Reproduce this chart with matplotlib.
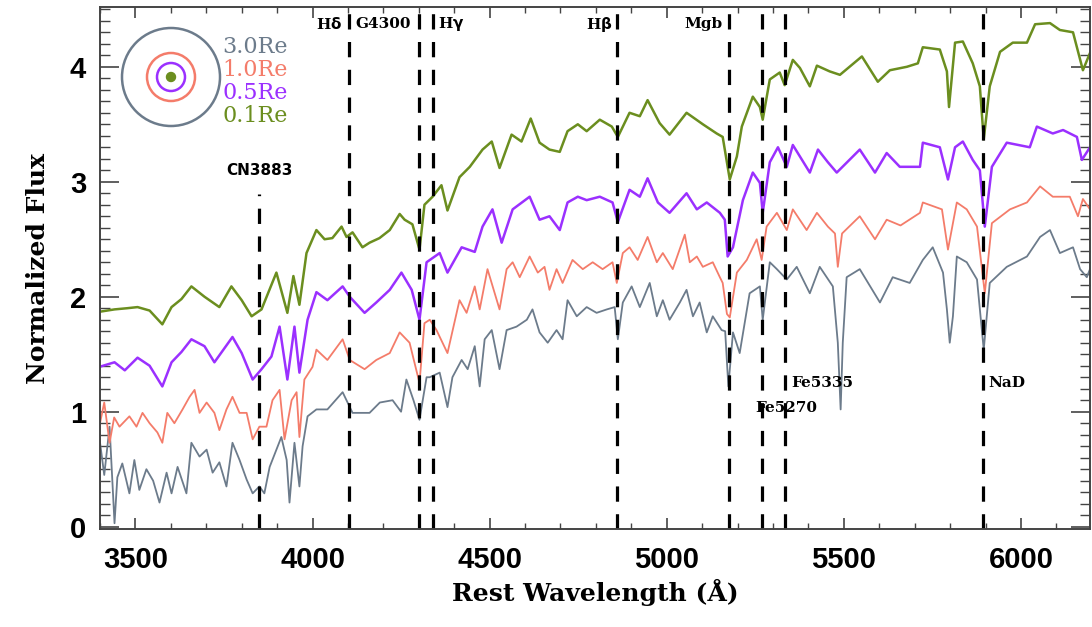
import matplotlib
matplotlib.use("Agg")
from matplotlib import pyplot as plt
from matplotlib.patches import Circle
from matplotlib.ticker import MultipleLocator

# spectra (rest wavelength in A, normalized flux)
wl_01 = [3400, 3441, 3476, 3506, 3540, 3576, 3602, 3630, 3658, 3695, 3737, 3771, 3800, 3828, 3856,
         3898, 3929, 3946, 3963, 3983, 4011, 4034, 4056, 4082, 4096, 4113, 4141, 4161, 4189, 4218,
         4246, 4260, 4282, 4302, 4316, 4339, 4364, 4381, 4415, 4444, 4480, 4506, 4528, 4562, 4590,
         4616, 4641, 4669, 4698, 4720, 4749, 4774, 4811, 4845, 4862, 4895, 4924, 4946, 4980, 5008,
         5056, 5102, 5141, 5158, 5178, 5198, 5212, 5243, 5263, 5271, 5291, 5319, 5333, 5356, 5376,
         5404, 5424, 5460, 5489, 5551, 5596, 5630, 5678, 5709, 5723, 5771, 5791, 5797, 5814, 5836,
         5864, 5884, 5895, 5912, 5941, 5977, 6017, 6040, 6082, 6110, 6147, 6175, 6195]
flux_01 = [1.87, 1.89, 1.90, 1.91, 1.88, 1.76, 1.91, 1.98, 2.09, 2.00, 1.91, 2.09, 1.97, 1.83, 1.89,
           2.21, 1.86, 2.18, 1.93, 2.38, 2.58, 2.50, 2.51, 2.61, 2.52, 2.56, 2.43, 2.47, 2.51, 2.58,
           2.72, 2.67, 2.63, 2.41, 2.80, 2.87, 2.97, 2.75, 3.04, 3.13, 3.28, 3.35, 3.12, 3.41, 3.35,
           3.55, 3.34, 3.28, 3.26, 3.44, 3.50, 3.44, 3.54, 3.48, 3.39, 3.60, 3.57, 3.71, 3.51, 3.41,
           3.60, 3.50, 3.42, 3.39, 3.02, 3.22, 3.48, 3.74, 3.65, 3.54, 3.89, 3.95, 3.84, 4.06, 3.99,
           3.83, 4.01, 3.96, 3.93, 4.09, 3.87, 3.97, 4.00, 4.03, 4.17, 4.15, 3.96, 3.65, 4.21, 4.22,
           4.03, 3.83, 3.37, 3.83, 4.13, 4.21, 4.21, 4.37, 4.38, 4.32, 4.30, 3.97, 4.12]

wl_05 = [3398, 3441, 3470, 3506, 3540, 3576, 3602, 3630, 3658, 3695, 3723, 3774, 3800, 3831, 3856,
         3884, 3907, 3929, 3949, 3963, 3986, 4011, 4042, 4085, 4105, 4147, 4180, 4218, 4251, 4280,
         4302, 4322, 4359, 4381, 4421, 4458, 4480, 4508, 4534, 4565, 4613, 4641, 4669, 4698, 4720,
         4749, 4774, 4811, 4847, 4862, 4895, 4924, 4946, 4975, 5008, 5056, 5085, 5113, 5150, 5164,
         5172, 5187, 5215, 5243, 5263, 5271, 5291, 5314, 5339, 5356, 5404, 5427, 5455, 5480, 5545,
         5588, 5621, 5658, 5715, 5723, 5771, 5794, 5814, 5836, 5864, 5884, 5898, 5918, 5960, 6025,
         6045, 6090, 6119, 6158, 6172, 6195]
flux_05 = [1.39, 1.43, 1.36, 1.47, 1.40, 1.22, 1.43, 1.52, 1.63, 1.57, 1.43, 1.65, 1.51, 1.28, 1.37,
           1.48, 1.74, 1.28, 1.74, 1.34, 1.80, 2.04, 1.97, 2.09, 2.00, 1.86, 1.95, 2.06, 2.21, 2.06,
           1.80, 2.30, 2.38, 2.21, 2.43, 2.39, 2.61, 2.76, 2.47, 2.76, 2.87, 2.67, 2.70, 2.58, 2.82,
           2.87, 2.84, 2.87, 2.82, 2.65, 2.93, 2.87, 3.03, 2.82, 2.73, 2.90, 2.76, 2.82, 2.73, 2.67,
           2.35, 2.43, 2.84, 3.08, 2.99, 2.73, 3.17, 3.30, 3.13, 3.32, 3.08, 3.28, 3.17, 3.08, 3.28,
           3.08, 3.25, 3.13, 3.13, 3.34, 3.30, 3.02, 3.30, 3.35, 3.19, 3.10, 2.61, 3.13, 3.34, 3.30,
           3.48, 3.42, 3.45, 3.39, 3.19, 3.30]

wl_10 = [3398, 3412, 3427, 3440, 3455, 3483, 3503, 3520, 3540, 3562,
         3576, 3590, 3610, 3633, 3653, 3667, 3681, 3701, 3723, 3737,
         3757, 3774, 3794, 3814, 3831, 3850, 3870, 3887, 3907, 3921,
         3941, 3955, 3963, 3977, 4000, 4011, 4042, 4085, 4105, 4147,
         4180, 4218, 4246, 4274, 4302, 4316, 4331, 4350, 4381, 4415,
         4435, 4458, 4472, 4494, 4528, 4548, 4565, 4585, 4613, 4636,
         4655, 4669, 4689, 4706, 4734, 4763, 4791, 4819, 4847, 4859,
         4876, 4895, 4918, 4946, 4972, 4989, 5017, 5051, 5065, 5085,
         5102, 5130, 5150, 5158, 5170, 5178, 5198, 5226, 5254, 5268,
         5282, 5311, 5339, 5356, 5395, 5424, 5455, 5475, 5483, 5495,
         5545, 5588, 5621, 5660, 5715, 5723, 5777, 5794, 5819, 5847,
         5876, 5898, 5918, 5969, 6017, 6054, 6090, 6138, 6161, 6175,
         6195]
flux_10 = [0.87, 1.08, 0.73, 0.95, 0.87, 0.96, 0.87, 0.99, 0.90, 0.82,
           0.73, 0.99, 0.90, 1.02, 1.13, 1.19, 0.99, 1.08, 0.99, 0.84,
           1.02, 1.13, 0.99, 0.99, 0.76, 0.87, 0.87, 1.10, 1.19, 0.76,
           1.10, 1.17, 0.78, 1.28, 1.39, 1.54, 1.45, 1.63, 1.45, 1.37,
           1.45, 1.51, 1.69, 1.60, 1.25, 1.77, 1.80, 1.71, 1.51, 1.97,
           1.86, 2.09, 1.89, 2.24, 1.89, 2.24, 2.30, 2.17, 2.35, 2.21,
           2.26, 2.06, 2.24, 2.12, 2.32, 2.24, 2.30, 2.24, 2.30, 2.12,
           2.38, 2.43, 2.32, 2.52, 2.30, 2.38, 2.24, 2.54, 2.30, 2.35,
           2.26, 2.30, 2.17, 2.12, 1.85, 1.82, 2.21, 2.32, 2.50, 2.32,
           2.61, 2.73, 2.58, 2.76, 2.58, 2.73, 2.61, 2.55, 2.26, 2.55,
           2.70, 2.50, 2.67, 2.62, 2.73, 2.82, 2.76, 2.41, 2.82, 2.76,
           2.61, 2.03, 2.64, 2.76, 2.82, 2.96, 2.87, 2.87, 2.70, 2.85,
           2.76]

wl_30 = [3398, 3412, 3427, 3441, 3449, 3463, 3483, 3497, 3511, 3531,
         3550, 3568, 3588, 3602, 3619, 3644, 3658, 3681, 3701, 3718,
         3737, 3757, 3774, 3794, 3814, 3831, 3850, 3864, 3879, 3898,
         3912, 3927, 3935, 3949, 3963, 3972, 3986, 4011, 4042, 4085,
         4113, 4161, 4190, 4226, 4250, 4265, 4285, 4302, 4322, 4331,
         4359, 4381, 4395, 4421, 4438, 4458, 4472, 4486, 4506, 4528,
         4548, 4576, 4605, 4621, 4641, 4664, 4689, 4706, 4720, 4746,
         4774, 4802, 4831, 4853, 4862, 4876, 4901, 4924, 4952, 4972,
         4989, 5008, 5037, 5056, 5074, 5093, 5113, 5130, 5155, 5165,
         5174, 5187, 5206, 5234, 5263, 5271, 5291, 5311, 5339, 5367,
         5404, 5432, 5469, 5483, 5491, 5497, 5508, 5545, 5602, 5638,
         5686, 5723, 5751, 5780, 5791, 5799, 5808, 5819, 5847, 5876,
         5895, 5912, 5960, 6017, 6054, 6082, 6110, 6147, 6167, 6186,
         6195]
flux_30 = [0.78, 0.45, 0.87, 0.03, 0.43, 0.55, 0.29, 0.58, 0.32, 0.50,
           0.40, 0.21, 0.47, 0.29, 0.52, 0.29, 0.73, 0.61, 0.67, 0.47,
           0.56, 0.35, 0.73, 0.58, 0.41, 0.29, 0.35, 0.29, 0.52, 0.67,
           0.78, 0.58, 0.21, 0.73, 0.35, 0.70, 0.96, 1.02, 1.02, 1.17,
           0.99, 0.99, 1.08, 1.10, 1.00, 1.28, 1.10, 0.93, 1.30, 1.30,
           1.34, 1.04, 1.30, 1.45, 1.37, 1.57, 1.22, 1.63, 1.71, 1.37,
           1.71, 1.74, 1.80, 1.89, 1.69, 1.60, 1.71, 1.63, 1.97, 1.83,
           1.91, 1.86, 1.89, 1.91, 1.63, 1.95, 2.09, 1.91, 2.12, 1.83,
           1.97, 1.80, 1.95, 2.06, 1.83, 1.95, 1.69, 1.83, 1.71, 1.70,
           1.22, 1.69, 1.51, 2.03, 2.09, 1.80, 2.30, 2.24, 2.15, 2.26,
           2.03, 2.26, 2.09, 1.60, 1.02, 1.60, 2.17, 2.24, 1.95, 2.17,
           2.12, 2.32, 2.43, 2.21, 1.89, 1.60, 1.83, 2.35, 2.30, 2.15,
           1.54, 2.12, 2.26, 2.35, 2.52, 2.58, 2.38, 2.43, 2.24, 2.17,
           2.24]

line_names = ["CN3883", "H$\\delta$", "G4300", "H$\\gamma$", "H$\\beta$", "Mgb", "Fe5270", "Fe5335", "NaD"]
line_wl = [3850, 4102, 4300, 4340, 4861, 5175, 5270, 5335, 5893]
radii = ["3.0Re", "1.0Re", "0.5Re", "0.1Re"]

c_gray, c_salmon, c_purple, c_green = "#6c7b8b", "#f47c6a", "#9b30ff", "#6b8e1f"

plt.rcParams["lines.scale_dashes"] = False
fig = plt.figure(figsize=(10.92, 6.27), dpi=100)
ax = fig.add_axes([100 / 1092, 98 / 627, 990 / 1092, 522 / 627])

ax.plot(wl_30, flux_30, color=c_gray, lw=1.3)
ax.plot(wl_10, flux_10, color=c_salmon, lw=1.3)
ax.plot(wl_05, flux_05, color=c_purple, lw=1.8)
ax.plot(wl_01, flux_01, color=c_green, lw=1.8)

for name, w in zip(line_names, line_wl):
    ytop = 4.52 if name != "CN3883" else 2.89
    ax.plot([w, w], [-0.02, ytop], color="black", lw=2.3, dashes=[11, 9])

lab = dict(fontsize=11, fontweight="bold", family="DejaVu Serif", va="center")
ax.text(3850, 3.10, "CN3883", fontsize=11, fontweight="bold", family="DejaVu Sans", ha="center", va="center")
ax.text(4085, 4.37, "H$\\mathbf{\\delta}$", ha="right", **lab)
ax.text(4120, 4.37, "G4300", ha="left", **lab)
ax.text(4355, 4.37, "H$\\mathbf{\\gamma}$", ha="left", **lab)
ax.text(4846, 4.37, "H$\\mathbf{\\beta}$", ha="right", **lab)
ax.text(5158, 4.37, "Mgb", ha="right", **lab)
ax.text(5250, 1.03, "Fe5270", ha="left", **lab)
ax.text(5352, 1.25, "Fe5335", ha="left", **lab)
ax.text(5908, 1.25, "NaD", ha="left", **lab)

ax.set_xlim(3400, 6195)
ax.set_ylim(-0.02, 4.52)
ax.xaxis.set_major_locator(MultipleLocator(500))
ax.xaxis.set_minor_locator(MultipleLocator(100))
ax.yaxis.set_major_locator(MultipleLocator(1))
ax.yaxis.set_minor_locator(MultipleLocator(0.1))
ax.tick_params(axis="both", which="both", direction="in", top=True, right=True, color="#444444")
ax.tick_params(axis="x", which="major", length=8, width=1.2, pad=12)
ax.tick_params(axis="x", which="minor", length=4, width=1.0)
ax.tick_params(axis="y", which="major", length=14, width=1.2, pad=10)
ax.tick_params(axis="y", which="minor", length=7, width=1.0)
for s in ax.spines.values():
    s.set_color("#444444")
    s.set_linewidth(1.4)
for t in ax.get_xticklabels() + ax.get_yticklabels():
    t.set_fontsize(21)
    t.set_fontweight("bold")
    t.set_family("Liberation Sans")

ax.set_xlabel("Rest Wavelength (Å)", fontsize=18, fontweight="bold", family="DejaVu Serif", labelpad=4)
ax.set_ylabel("Normalized Flux", fontsize=18, fontweight="bold", family="DejaVu Serif", labelpad=14)

# radius legend: concentric rings
leg = fig.add_axes([116 / 1092, 1 - 132 / 627, 110 / 1092, 110 / 627])
leg.set_xlim(-1.1, 1.1)
leg.set_ylim(-1.1, 1.1)
leg.set_aspect("equal")
leg.axis("off")
leg.add_patch(Circle((0, 0), 0.98, fill=False, ec=c_gray, lw=1.8))
leg.add_patch(Circle((0, 0), 0.48, fill=False, ec=c_salmon, lw=1.8))
leg.add_patch(Circle((0, 0), 0.28, fill=False, ec=c_purple, lw=1.8))
leg.add_patch(Circle((0, 0), 0.09, color=c_green))

for i, (r, c) in enumerate(zip(radii, [c_gray, c_salmon, c_purple, c_green])):
    fig.text(222 / 1092, 1 - (47 + 23 * i) / 627, r, color=c, fontsize=16,
             family="DejaVu Serif", va="center", ha="left")

fig.savefig("out.png", dpi=100)
